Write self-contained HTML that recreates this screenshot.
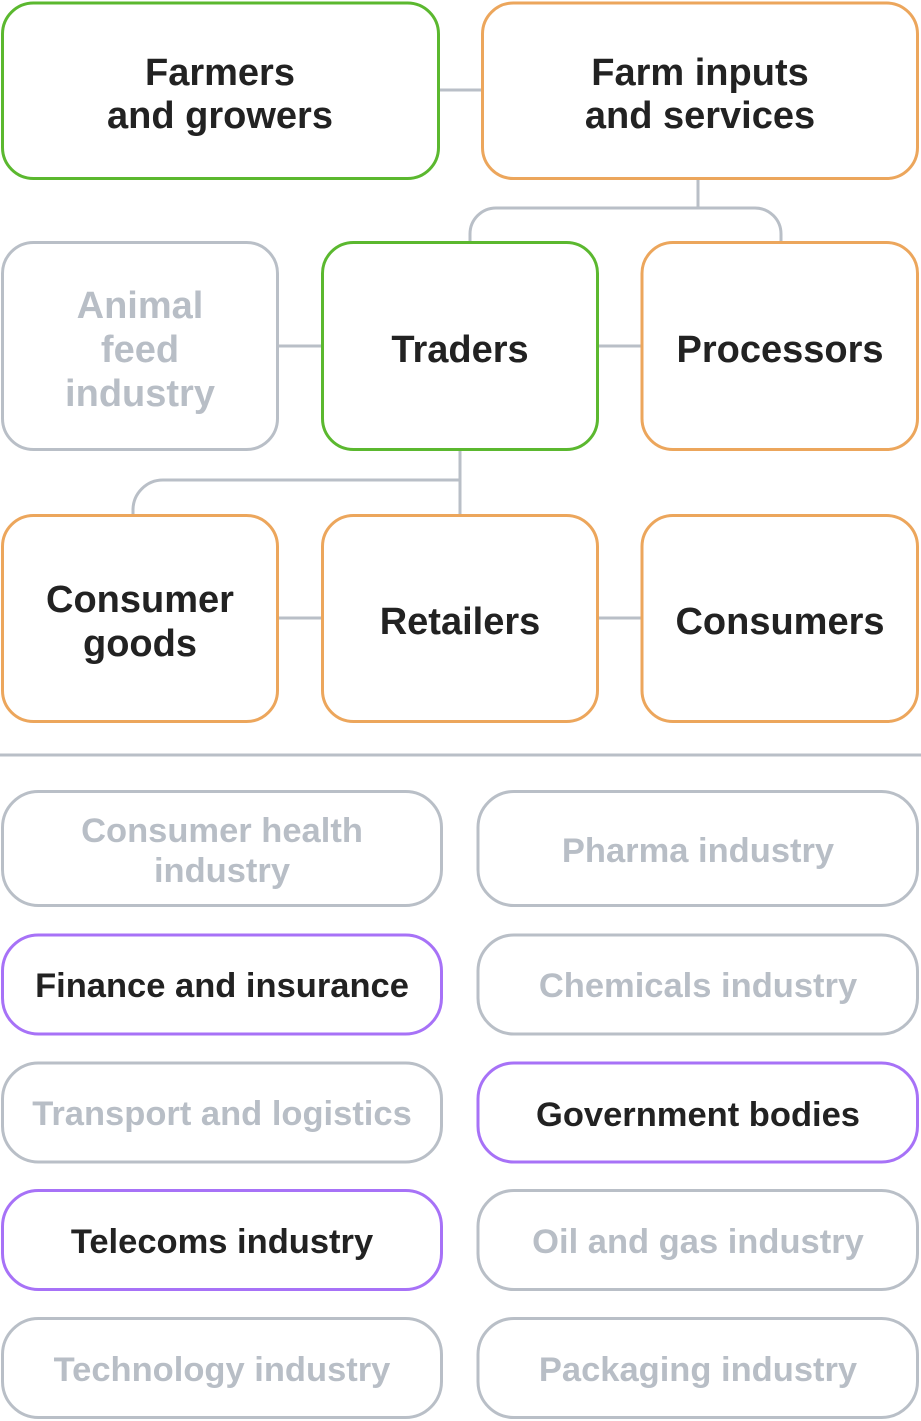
<!DOCTYPE html>
<html>
<head>
<meta charset="utf-8">
<style>
  html, body { margin: 0; padding: 0; background: #ffffff; }
  body { width: 921px; height: 1421px; overflow: hidden; }
  svg { display: block; }
  text { font-family: "Liberation Sans", Arial, sans-serif; font-weight: bold; text-anchor: middle; }
  .big { font-size: 38px; }
  .sm { font-size: 34.5px; }
  .dk { fill: #222222; }
  .lt { fill: #b8bec6; }
</style>
</head>
<body>
<svg width="921" height="1421" viewBox="0 0 921 1421" xmlns="http://www.w3.org/2000/svg">
  <!-- connectors -->
  <g stroke="#b9bfc7" stroke-width="3" fill="none">
    <line x1="439" y1="90" x2="483" y2="90"/>
    <line x1="698" y1="179" x2="698" y2="208"/>
    <path d="M470,243 L470,234 A26,26 0 0 1 496,208 L755,208 A26,26 0 0 1 781,234 L781,243"/>
    <line x1="278" y1="346" x2="323" y2="346"/>
    <line x1="597" y1="346" x2="643" y2="346"/>
    <line x1="460" y1="450" x2="460" y2="516"/>
    <path d="M460,480 L163,480 A30,30 0 0 0 133,510 L133,516"/>
    <line x1="278" y1="618" x2="323" y2="618"/>
    <line x1="597" y1="618" x2="643" y2="618"/>
    <line x1="0" y1="755" x2="921" y2="755"/>
  </g>

  <!-- top flow boxes -->
  <g fill="#ffffff" stroke-width="3">
    <rect x="2.5" y="3" width="436" height="175.5" rx="31" stroke="#5bb82f"/>
    <rect x="482.5" y="3" width="435" height="175.5" rx="31" stroke="#eca65c"/>

    <rect x="2.5" y="242.5" width="275" height="207" rx="31" stroke="#b9bfc7"/>
    <rect x="322.5" y="242.5" width="275" height="207" rx="31" stroke="#5bb82f"/>
    <rect x="642" y="242.5" width="275.5" height="207" rx="31" stroke="#eca65c"/>

    <rect x="2.5" y="515.5" width="275" height="206" rx="31" stroke="#eca65c"/>
    <rect x="322.5" y="515.5" width="275" height="206" rx="31" stroke="#eca65c"/>
    <rect x="642" y="515.5" width="275.5" height="206" rx="31" stroke="#eca65c"/>
  </g>

  <!-- bottom boxes -->
  <g fill="#ffffff" stroke-width="3">
    <rect x="2.5" y="791.5" width="439" height="114" rx="36" stroke="#b9bfc7"/>
    <rect x="478" y="791.5" width="439.5" height="114" rx="36" stroke="#b9bfc7"/>

    <rect x="2.5" y="935" width="439" height="99" rx="36" stroke="#a772f7"/>
    <rect x="478" y="935" width="439.5" height="99" rx="36" stroke="#b9bfc7"/>

    <rect x="2.5" y="1063" width="439" height="99" rx="36" stroke="#b9bfc7"/>
    <rect x="478" y="1063" width="439.5" height="99" rx="36" stroke="#a772f7"/>

    <rect x="2.5" y="1190.5" width="439" height="99" rx="36" stroke="#a772f7"/>
    <rect x="478" y="1190.5" width="439.5" height="99" rx="36" stroke="#b9bfc7"/>

    <rect x="2.5" y="1318.5" width="439" height="99" rx="36" stroke="#b9bfc7"/>
    <rect x="478" y="1318.5" width="439.5" height="99" rx="36" stroke="#b9bfc7"/>
  </g>

  <!-- top labels -->
  <text class="big dk" x="220" y="85">Farmers</text>
  <text class="big dk" x="220" y="128">and growers</text>
  <text class="big dk" x="700" y="85">Farm inputs</text>
  <text class="big dk" x="700" y="128">and services</text>

  <text class="big lt" x="140" y="318">Animal</text>
  <text class="big lt" x="140" y="362">feed</text>
  <text class="big lt" x="140" y="406">industry</text>
  <text class="big dk" x="460" y="362">Traders</text>
  <text class="big dk" x="780" y="362">Processors</text>

  <text class="big dk" x="140" y="612">Consumer</text>
  <text class="big dk" x="140" y="656">goods</text>
  <text class="big dk" x="460" y="634">Retailers</text>
  <text class="big dk" x="780" y="634">Consumers</text>

  <!-- bottom labels -->
  <text class="sm lt" x="222" y="842">Consumer health</text>
  <text class="sm lt" x="222" y="882">industry</text>
  <text class="sm lt" x="698" y="862">Pharma industry</text>

  <text class="sm dk" x="222" y="997">Finance and insurance</text>
  <text class="sm lt" x="698" y="997">Chemicals industry</text>

  <text class="sm lt" x="222" y="1125">Transport and logistics</text>
  <text class="sm dk" x="698" y="1126">Government bodies</text>

  <text class="sm dk" x="222" y="1253">Telecoms industry</text>
  <text class="sm lt" x="698" y="1253">Oil and gas industry</text>

  <text class="sm lt" x="222" y="1381">Technology industry</text>
  <text class="sm lt" x="698" y="1381">Packaging industry</text>
</svg>
</body>
</html>
